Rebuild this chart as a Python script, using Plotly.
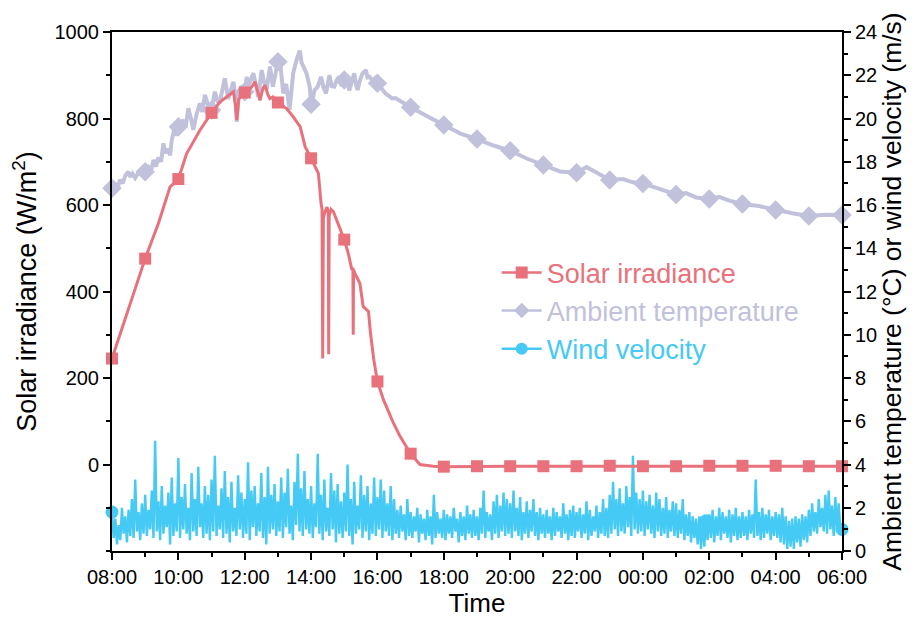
import numpy as np
import plotly.graph_objects as go

# ---------------- data ----------------
tick_hours = list(range(0, 23, 2))
tick_labels = ["08:00", "10:00", "12:00", "14:00", "16:00", "18:00",
               "20:00", "22:00", "00:00", "02:00", "04:00", "06:00"]

solar_hours = [0, 0.5, 1, 1.4, 1.75, 2, 2.25, 2.65, 3, 3.25, 3.45, 3.66, 3.72, 3.76, 3.82,
               4, 4.06, 4.2, 4.31, 4.4, 4.46, 4.55, 4.61, 4.7, 4.76, 4.85, 5, 5.26, 5.46,
               5.67, 5.82, 6, 6.22, 6.3, 6.33, 6.35, 6.37, 6.42, 6.48, 6.52, 6.53, 6.545,
               6.6, 6.67, 6.77, 6.9, 7, 7.12, 7.23, 7.26, 7.27, 7.28, 7.32, 7.47, 7.57,
               7.73, 7.79, 7.89, 8, 8.18, 8.33, 8.48, 8.68, 9, 9.28, 9.68, 10, 11, 12, 13,
               14, 15, 16, 17, 18, 19, 20, 21, 22]
solar_values = [245, 360, 476, 558, 642, 660, 719, 773, 813, 838, 850, 862, 830, 796, 845,
                860, 865, 872, 885, 860, 842, 870, 877, 855, 846, 850, 837, 823, 804,
                781, 735, 708, 673, 604, 590, 245, 570, 585, 595, 580, 255, 575,
                590, 585, 565, 540, 520, 488, 450, 455, 300, 450, 442, 419, 365,
                354, 304, 242, 192, 150, 123, 96, 65, 25, 0, -4, -5, -4, -4, -4,
                -4, -3, -4, -4, -3, -3, -3, -4, -4]

temp_hours = [0, 0.1, 0.17, 0.24, 0.32, 0.4, 0.49, 0.55, 0.62, 0.7, 0.8, 0.9, 1, 1.1, 1.18,
              1.25, 1.32, 1.4, 1.48, 1.55, 1.6, 1.68, 1.75, 1.8, 1.9, 1.95, 2, 2.08, 2.15,
              2.22, 2.3, 2.38, 2.45, 2.55, 2.65, 2.72, 2.8, 2.9, 3, 3.1, 3.18, 3.25, 3.33,
              3.4, 3.5, 3.58, 3.66, 3.72, 3.76, 3.82, 3.9, 4, 4.06, 4.1, 4.18, 4.26, 4.33,
              4.41, 4.51, 4.58, 4.66, 4.76, 4.85, 4.92, 5, 5.05, 5.11, 5.16, 5.25, 5.35,
              5.41, 5.46, 5.56, 5.66, 5.71, 5.76, 5.86, 5.96, 6, 6.05, 6.1, 6.2, 6.3, 6.38,
              6.45, 6.55, 6.62, 6.7, 6.78, 6.85, 6.92, 7, 7.08, 7.15, 7.22, 7.3, 7.35, 7.4,
              7.48, 7.55, 7.65, 7.7, 7.76, 7.85, 7.92, 8, 8.12, 8.24, 8.34, 8.44, 8.54,
              8.64, 8.8, 9, 9.5, 10, 10.5, 11, 11.5, 12, 12.5, 13, 13.5, 14, 14.3, 14.6,
              15, 15.4, 15.7, 16, 16.5, 17, 17.3, 17.6, 18, 18.3, 18.6, 19, 19.5, 20,
              20.5, 21, 21.5, 22]
temp_values = [16.77, 16.95, 16.8, 17.16, 17.0, 17.35, 17.54, 17.3, 17.45, 17.25, 17.5, 17.4,
               17.54, 17.75, 17.6, 18.08, 17.78, 18.2, 18.0, 18.85, 18.4, 18.6, 18.3, 19.0,
               19.62, 19.2, 19.62, 19.75, 19.93, 19.6, 20.47, 20.0, 19.47, 20.2, 20.7, 20.3,
               21.09, 20.6, 20.39, 21.24, 20.8, 20.77, 21.4, 21.86, 20.9, 21.3, 21.7, 21.0,
               19.85, 21.1, 21.5, 21.24, 21.93, 21.47, 21.8, 22.09, 21.6, 21.0, 22.24, 21.7,
               21.32, 22.4, 21.47, 22.1, 22.63, 22.86, 22.0, 21.16, 21.6, 20.4, 21.3, 22.09,
               22.7, 23.14, 22.6, 22.4, 22.1, 21.47, 20.66, 20.9, 21.3, 21.47, 21.93, 21.4,
               21.16, 22.0, 21.5, 21.47, 21.8, 21.93, 21.5, 21.78, 21.9, 21.3, 21.7, 22.09,
               21.6, 21.32, 21.8, 22.09, 22.24, 21.9, 21.93, 21.75, 21.85, 21.63, 21.4, 21.16,
               21.05, 20.93, 20.95, 20.85, 20.7, 20.52, 20.1, 19.7, 19.3, 19.05, 18.75, 18.51,
               18.15, 17.85, 17.55, 17.49, 17.75, 17.5, 17.16, 17.2, 17.05, 17.0, 16.75,
               16.49, 16.55, 16.35, 16.28, 16.38, 16.2, 16.05, 15.95, 15.77, 15.62, 15.49,
               15.55, 15.54]

# wind velocity, sampled every 3 minutes (20 samples per hour)
wind_h00 = [1.8, 0.6, 1.5, 0.3, 1.2, 0.5, 2.0, 0.8, 1.6, 0.4, 1.9, 0.7, 2.4, 0.6, 3.3, 0.9, 1.8, 0.5, 2.2, 0.8]
wind_h01 = [2.6, 0.7, 1.9, 1.0, 2.8, 0.6, 5.1, 0.9, 2.3, 0.5, 3.0, 0.8, 2.1, 1.1, 2.7, 0.3, 3.4, 0.7, 2.2, 0.9]
wind_h02 = [4.3, 0.6, 2.5, 1.0, 3.1, 0.8, 2.0, 0.5, 3.6, 0.9, 2.4, 0.7, 3.9, 1.1, 2.2, 0.6, 3.0, 0.8, 2.6, 0.5]
wind_h03 = [3.3, 0.9, 4.4, 0.7, 2.1, 1.0, 2.9, 0.6, 3.7, 0.8, 2.5, 0.4, 3.2, 0.9, 2.0, 0.7, 3.5, 1.0, 2.7, 0.6]
wind_h04 = [2.4, 0.8, 4.1, 0.5, 2.8, 1.1, 3.0, 0.7, 2.2, 0.9, 3.6, 0.6, 2.5, 0.3, 3.9, 0.8, 2.6, 1.0, 3.1, 0.7]
wind_h05 = [2.3, 0.9, 3.4, 0.6, 2.7, 1.1, 3.8, 0.8, 2.1, 0.5, 3.2, 1.2, 4.5, 0.9, 2.9, 0.7, 3.7, 1.0, 2.4, 0.8]
wind_h06 = [3.0, 0.6, 2.2, 1.1, 4.5, 0.8, 2.6, 0.5, 3.3, 0.9, 2.0, 0.7, 3.6, 1.0, 2.8, 0.4, 3.1, 0.8, 2.3, 0.6]
wind_h07 = [2.7, 0.9, 4.0, 0.7, 2.4, 0.3, 3.2, 0.8, 2.1, 1.0, 3.5, 0.6, 2.6, 0.9, 3.0, 0.5, 2.2, 0.8, 3.4, 0.7]
wind_h08 = [2.5, 1.0, 3.3, 0.6, 2.8, 0.9, 2.2, 0.7, 3.0, 0.5, 2.4, 0.8, 1.9, 0.6, 2.1, 0.9, 1.7, 0.5, 2.4, 0.7]
wind_h09 = [1.8, 0.6, 1.6, 0.9, 2.0, 0.4, 1.7, 0.8, 1.5, 0.5, 1.9, 0.7, 1.6, 0.3, 2.6, 0.6, 1.8, 0.8, 1.5, 0.6]
wind_h10 = [1.9, 0.5, 1.7, 0.8, 1.6, 0.6, 2.0, 0.9, 1.5, 0.4, 1.8, 0.7, 1.6, 0.5, 2.1, 0.8, 1.7, 0.6, 1.9, 0.7]
wind_h11 = [1.6, 0.5, 2.0, 0.8, 2.8, 0.6, 1.8, 0.9, 1.7, 0.5, 2.3, 0.8, 2.6, 0.6, 2.1, 0.9, 2.7, 0.7, 2.4, 0.8]
wind_h12 = [2.2, 0.6, 2.8, 0.9, 2.0, 0.7, 2.5, 0.5, 1.8, 0.8, 2.3, 0.6, 1.9, 0.9, 2.4, 0.7, 1.8, 0.5, 2.0, 0.8]
wind_h13 = [1.7, 0.6, 1.9, 0.8, 1.6, 0.5, 2.0, 0.7, 1.8, 0.9, 1.6, 0.6, 2.2, 0.8, 1.7, 0.5, 1.9, 0.7, 2.1, 0.6]
wind_h14 = [1.8, 0.9, 2.0, 0.6, 1.7, 0.8, 2.3, 0.5, 1.9, 0.7, 1.6, 0.9, 2.1, 0.6, 1.8, 0.8, 2.4, 0.7, 2.0, 0.6]
wind_h15 = [2.6, 0.8, 3.2, 1.0, 2.4, 0.7, 2.9, 0.9, 2.2, 0.8, 3.0, 1.1, 2.5, 0.7, 4.4, 1.0, 2.7, 0.8, 2.4, 0.9]
wind_h16 = [2.8, 0.7, 2.3, 1.0, 2.6, 0.8, 2.1, 0.6, 2.7, 0.9, 2.4, 0.7, 2.0, 0.8, 2.5, 0.6, 1.9, 0.9, 2.3, 0.7]
wind_h17 = [2.2, 0.6, 1.9, 0.8, 2.4, 0.5, 1.7, 0.7, 1.8, 0.4, 1.6, 0.6, 1.5, 0.3, 1.6, 0.1, 1.4, 0.2, 1.4, 0.5]
wind_h18 = [1.7, 0.6, 1.9, 0.4, 1.6, 0.7, 2.0, 0.5, 1.8, 0.8, 1.6, 0.6, 1.9, 0.4, 1.7, 0.7, 2.0, 0.5, 1.6, 0.6]
wind_h19 = [1.8, 0.7, 1.6, 0.5, 1.9, 0.8, 1.7, 0.6, 3.3, 0.7, 1.8, 0.5, 2.0, 0.6, 1.7, 0.8, 1.9, 0.5, 1.6, 0.7]
wind_h20 = [1.8, 0.6, 1.7, 0.4, 2.0, 0.3, 1.6, 0.1, 1.4, 0.2, 1.5, 0.1, 1.6, 0.4, 1.5, 0.2, 1.7, 0.5, 1.6, 0.4]
wind_h21 = [1.9, 0.7, 2.2, 0.9, 1.8, 0.8, 2.4, 1.1, 2.0, 0.9, 2.6, 0.8, 2.8, 1.0, 2.1, 0.7, 2.5, 0.9, 2.2, 1.0]
wind_end = [1.0]
wind_marker_hours = [0, 17.9, 22]

series_names = ["Solar irradiance", "Ambient temperature", "Wind velocity"]

# ---------------- build ----------------
RED = "#E8717B"
LAV = "#C1C1DC"
CYAN = "#45C9F5"
FONT = "Liberation Sans, Arial, sans-serif"

wind_values = (wind_h00 + wind_h01 + wind_h02 + wind_h03 + wind_h04 + wind_h05 + wind_h06 +
               wind_h07 + wind_h08 + wind_h09 + wind_h10 + wind_h11 + wind_h12 + wind_h13 +
               wind_h14 + wind_h15 + wind_h16 + wind_h17 + wind_h18 + wind_h19 + wind_h20 +
               wind_h21 + wind_end)
wind_hours = np.round(np.arange(len(wind_values)) * 0.05, 2)

solar_mk = [(h, v) for h, v in zip(solar_hours, solar_values) if float(h).is_integer()]
temp_mk = [(h, v) for h, v in zip(temp_hours, temp_values) if float(h).is_integer()]
wind_mk = [(h, v) for h, v in zip(wind_hours, wind_values) if h in wind_marker_hours]

fig = go.Figure()

# temperature (right axis, base 'y')
fig.add_trace(go.Scatter(x=temp_hours, y=temp_values, mode="lines",
                         line=dict(color=LAV, width=4), yaxis="y", showlegend=False))
fig.add_trace(go.Scatter(x=[p[0] for p in temp_mk], y=[p[1] for p in temp_mk], mode="markers",
                         marker=dict(symbol="diamond", size=15, color=LAV), yaxis="y",
                         cliponaxis=False, showlegend=False))
# wind
fig.add_trace(go.Scatter(x=wind_hours, y=wind_values, mode="lines",
                         line=dict(color=CYAN, width=2.4), yaxis="y", showlegend=False))
fig.add_trace(go.Scatter(x=[p[0] for p in wind_mk], y=[p[1] for p in wind_mk], mode="markers",
                         marker=dict(symbol="circle", size=13, color=CYAN), yaxis="y",
                         cliponaxis=False, showlegend=False))
# solar (left axis, overlaying -> drawn on top)
fig.add_trace(go.Scatter(x=solar_hours, y=solar_values, mode="lines",
                         line=dict(color=RED, width=3), yaxis="y2", showlegend=False))
fig.add_trace(go.Scatter(x=[p[0] for p in solar_mk], y=[p[1] for p in solar_mk], mode="markers",
                         marker=dict(symbol="square", size=12, color=RED), yaxis="y2",
                         cliponaxis=False, showlegend=False))

# legend entries
for name, col, sym, g in [(series_names[0], RED, "square", "a"),
                          (series_names[1], LAV, "diamond", "b"),
                          (series_names[2], CYAN, "circle", "c")]:
    fig.add_trace(go.Scatter(x=[None], y=[None], mode="lines+markers",
                             name=f"<span style='color:{col}'>{name}</span>",
                             legendgroup=g, line=dict(color=col, width=2.5),
                             marker=dict(symbol=sym, size=12, color=col), yaxis="y2"))

axis_common = dict(showline=True, linecolor="black", linewidth=2, ticks="outside",
                   ticklen=7, tickwidth=2, tickcolor="black", showgrid=False, zeroline=False,
                   tickfont=dict(family=FONT, size=20, color="black"))
minor_common = dict(ticklen=4, tickwidth=1.5, tickcolor="black", ticks="outside")

fig.update_layout(
    width=914, height=626,
    margin=dict(l=112, r=72, t=32, b=75),
    paper_bgcolor="white", plot_bgcolor="white",
    font=dict(family=FONT, color="black"),
    xaxis=dict(range=[0, 22], tickvals=tick_hours, ticktext=tick_labels, mirror=True,
               minor=dict(dtick=1, tick0=0, **minor_common),
               title=dict(text="Time", font=dict(family=FONT, size=26, color="black"), standoff=6),
               **axis_common),
    yaxis=dict(range=[0, 24], dtick=2, tick0=0, side="right", anchor="x",
               minor=dict(dtick=1, tick0=0, **minor_common),
               title=dict(text="Ambient temperature (°C) or wind velocity (m/s)",
                          font=dict(family=FONT, size=26.5, color="black"), standoff=5),
               **axis_common),
    yaxis2=dict(range=[-200, 1000], tickvals=[0, 200, 400, 600, 800, 1000], side="left",
                overlaying="y", anchor="x",
                minor=dict(dtick=100, tick0=0, **minor_common),
                title=dict(text="Solar irradiance (W/m<sup>2</sup>)",
                           font=dict(family=FONT, size=27, color="black"), standoff=10),
                **axis_common),
    legend=dict(x=0.527, y=0.583, xanchor="left", yanchor="top", bgcolor="rgba(0,0,0,0)",
                font=dict(family=FONT, size=27), tracegroupgap=0, traceorder="grouped",
                itemwidth=40),
    showlegend=True,
)

fig.write_html("out.html")
